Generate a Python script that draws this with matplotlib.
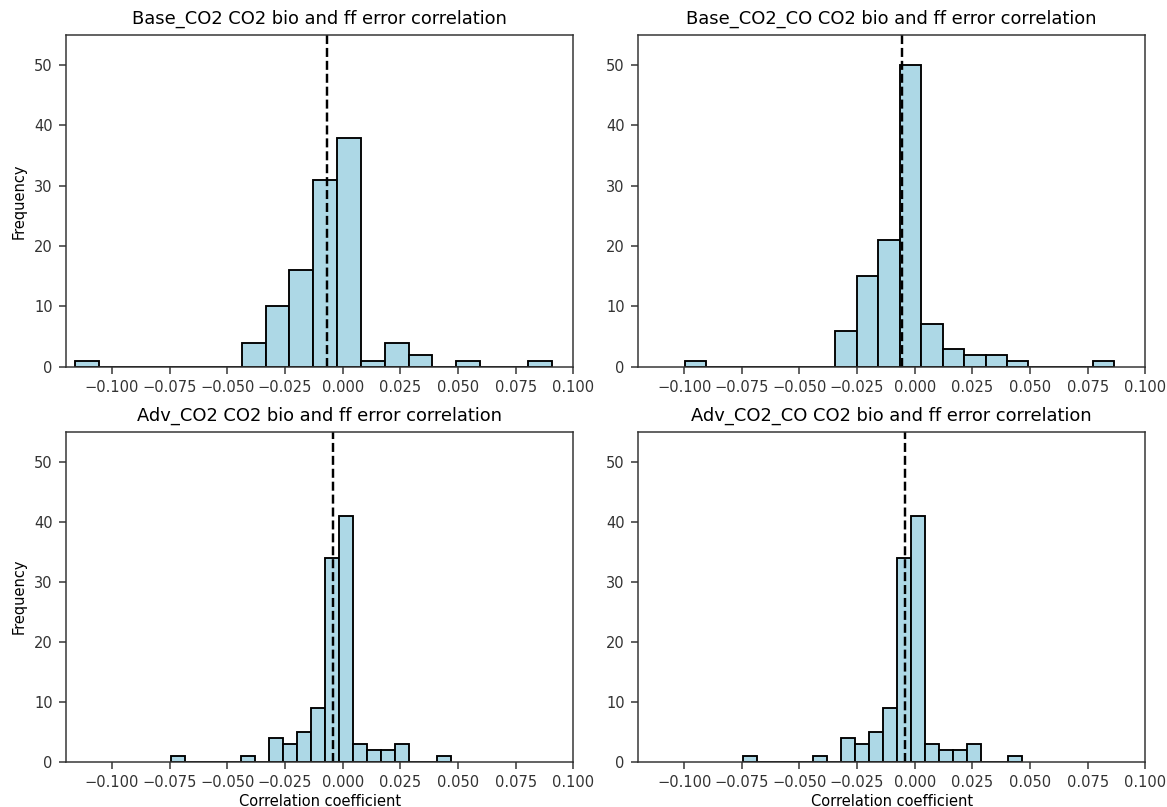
import numpy as np
import matplotlib
matplotlib.use("Agg")
import matplotlib.pyplot as plt
from matplotlib.ticker import MultipleLocator

titles = ["Base_CO2 CO2 bio and ff error correlation",
          "Base_CO2_CO CO2 bio and ff error correlation",
          "Adv_CO2 CO2 bio and ff error correlation",
          "Adv_CO2_CO CO2 bio and ff error correlation"]

# min / max of the correlation samples (20 equal bins between them)
data_min = [-0.1161, -0.0997, -0.0746, -0.0744]
data_max = [0.0906, 0.0866, 0.0469, 0.0467]

counts_base_co2 = [1, 0, 0, 0, 0, 0, 0, 4, 10, 16, 31, 38, 1, 4, 2, 0, 1, 0, 0, 1]
counts_base_co2_co = [1, 0, 0, 0, 0, 0, 0, 6, 15, 21, 50, 7, 3, 2, 2, 1, 0, 0, 0, 1]
counts_adv_co2 = [1, 0, 0, 0, 0, 1, 0, 4, 3, 5, 9, 34, 41, 3, 2, 2, 3, 0, 0, 1]
counts_adv_co2_co = [1, 0, 0, 0, 0, 1, 0, 4, 3, 5, 9, 34, 41, 3, 2, 2, 3, 0, 0, 1]
all_counts = [counts_base_co2, counts_base_co2_co, counts_adv_co2, counts_adv_co2_co]

means = [-0.0068, -0.0057, -0.0041, -0.0040]

plt.rcParams['font.size'] = 7.8
plt.rcParams['axes.titlesize'] = 9.5
plt.rcParams['axes.edgecolor'] = '#333333'
plt.rcParams['xtick.color'] = '#333333'
plt.rcParams['ytick.color'] = '#333333'

fig = plt.figure(figsize=(1167/135, 807/135), dpi=135)
positions = [[0.0564, 0.5456, 0.4349, 0.4110],
             [0.5467, 0.5456, 0.4347, 0.4110],
             [0.0564, 0.0561, 0.4349, 0.4089],
             [0.5467, 0.0561, 0.4347, 0.4089]]

for i in range(4):
    ax = fig.add_axes(positions[i])
    edges = np.linspace(data_min[i], data_max[i], 21)
    centers = (edges[:-1] + edges[1:]) / 2
    ax.hist(centers, bins=edges, weights=all_counts[i], color='lightblue',
            edgecolor='black', linewidth=1.0)
    ax.axvline(means[i], color='black', linestyle='--', linewidth=1.3)
    ax.set_xlim(-0.12, 0.1)
    ax.set_ylim(0, 55)
    ax.xaxis.set_major_locator(MultipleLocator(0.025))
    ax.set_title(titles[i])
    if i % 2 == 0:
        ax.set_ylabel("Frequency")
    if i >= 2:
        ax.set_xlabel("Correlation coefficient", labelpad=2)

fig.savefig("out.png", dpi=135)
